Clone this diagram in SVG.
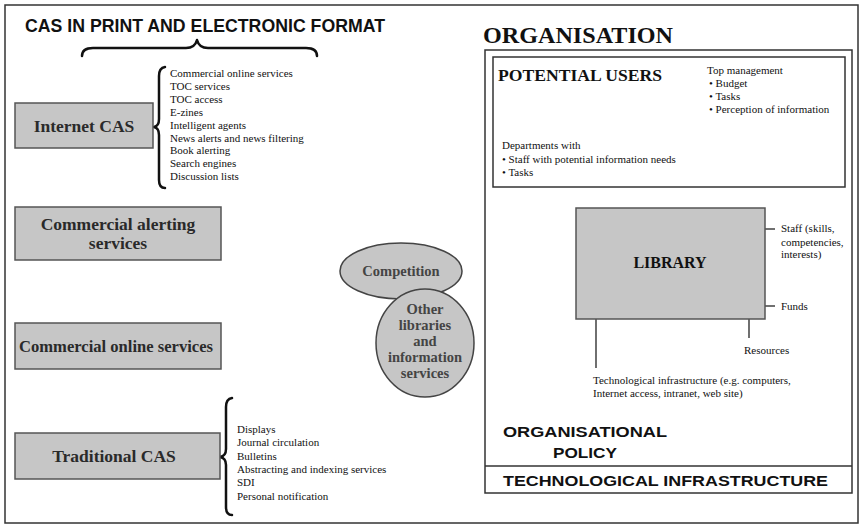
<svg xmlns="http://www.w3.org/2000/svg" width="861" height="526" viewBox="0 0 861 526">
<style>
.frame{fill:none;stroke:#333;stroke-width:1.5}
.box{fill:#c6c6c6;stroke:#555;stroke-width:1.5}
.ell{fill:#c6c6c6;stroke:#444;stroke-width:1.5}
.lbl{font-family:"Liberation Serif",serif;font-weight:bold;font-size:17.5px;fill:#2a2a2a;text-anchor:middle}
.hd{font-family:"Liberation Sans",sans-serif;font-weight:bold;fill:#111}
.hds{font-family:"Liberation Serif",serif;font-weight:bold;fill:#111}
.body{font-family:"Liberation Serif",serif;font-size:11px;fill:#111}
.el{font-family:"Liberation Serif",serif;font-weight:bold;font-size:14.5px;fill:#444;text-anchor:middle}
.brace{fill:none;stroke:#111;stroke-width:2.5;stroke-linecap:round;stroke-linejoin:round}
.tick{fill:none;stroke:#222;stroke-width:1.3}
</style>
<rect x="0" y="0" width="861" height="526" fill="#fff"/>
<rect class="frame" x="5" y="5" width="853" height="518"/>

<g id="title">
<text class="hd" x="25" y="32" font-size="17.5" textLength="360" lengthAdjust="spacingAndGlyphs">CAS IN PRINT AND ELECTRONIC FORMAT</text>
</g>

<g id="connectors">
<path class="brace" stroke-width="4.5" d="M 82 56 Q 82 48 93 48 L 186 48 Q 195 48 197 40 Q 199 48 208 48 L 306 48 Q 317 48 317 56"/>
<path class="brace" d="M 165 67 Q 159 68 159 76 L 159 119 Q 159 126 154 127 Q 159 128 159 135 L 159 180 Q 159 188 165 188"/>
<path class="brace" d="M 232 398 Q 226 399 226 407 L 226 449 Q 226 456 220 457 Q 226 458 226 465 L 226 507 Q 226 515 232 515"/>
<line class="tick" x1="765" y1="229" x2="775" y2="229"/>
<line class="tick" x1="765" y1="306" x2="775" y2="306"/>
<line class="tick" x1="749" y1="319" x2="749" y2="338"/>
<line class="tick" x1="596" y1="319" x2="596" y2="368"/>
</g>

<g id="internet-cas">
<rect class="box" x="15" y="103" width="138" height="45"/>
<text class="lbl" x="84" y="132">Internet CAS</text>
</g>
<g id="internet-cas-list">
<text class="body" x="170" y="77">Commercial online services</text>
<text class="body" x="170" y="90">TOC services</text>
<text class="body" x="170" y="103">TOC access</text>
<text class="body" x="170" y="116">E-zines</text>
<text class="body" x="170" y="128.5">Intelligent agents</text>
<text class="body" x="170" y="141.5">News alerts and news filtering</text>
<text class="body" x="170" y="154">Book alerting</text>
<text class="body" x="170" y="167">Search engines</text>
<text class="body" x="170" y="180">Discussion lists</text>
</g>

<g id="commercial-alerting">
<rect class="box" x="15" y="207" width="206" height="53"/>
<text class="lbl" x="118" y="230">Commercial alerting</text>
<text class="lbl" x="118" y="249">services</text>
</g>

<g id="commercial-online">
<rect class="box" x="15" y="323" width="206" height="46"/>
<text class="lbl" x="116" y="352" textLength="194" lengthAdjust="spacingAndGlyphs">Commercial online services</text>
</g>

<g id="traditional-cas">
<rect class="box" x="15" y="433" width="205" height="46"/>
<text class="lbl" x="114" y="462">Traditional CAS</text>
</g>
<g id="traditional-cas-list">
<text class="body" x="237" y="432.5">Displays</text>
<text class="body" x="237" y="446">Journal circulation</text>
<text class="body" x="237" y="459.5">Bulletins</text>
<text class="body" x="237" y="473">Abstracting and indexing services</text>
<text class="body" x="237" y="486">SDI</text>
<text class="body" x="237" y="499.5">Personal notification</text>
</g>

<g id="competition">
<ellipse class="ell" cx="401" cy="271" rx="61" ry="28"/>
<text class="el" x="401" y="276">Competition</text>
</g>
<g id="other-libraries">
<ellipse class="ell" cx="425" cy="343" rx="49" ry="54"/>
<text class="el" x="425" y="314">Other</text>
<text class="el" x="425" y="330">libraries</text>
<text class="el" x="425" y="346">and</text>
<text class="el" x="425" y="362">information</text>
<text class="el" x="425" y="378">services</text>
</g>

<g id="organisation">
<text class="hds" x="483" y="43" font-size="23" textLength="190" lengthAdjust="spacingAndGlyphs">ORGANISATION</text>
<rect class="frame" x="485" y="50" width="367" height="443"/>
<line class="frame" x1="485" y1="466" x2="852" y2="466"/>
<text class="hd" x="503" y="437" font-size="14.5" textLength="164" lengthAdjust="spacingAndGlyphs">ORGANISATIONAL</text>
<text class="hd" x="553" y="458" font-size="14.5" textLength="64" lengthAdjust="spacingAndGlyphs">POLICY</text>
</g>

<g id="technological-infrastructure">
<text class="hd" x="503" y="486" font-size="15" textLength="325" lengthAdjust="spacingAndGlyphs">TECHNOLOGICAL INFRASTRUCTURE</text>
</g>

<g id="potential-users">
<rect class="frame" x="493" y="57" width="352" height="130"/>
<text class="hds" x="498" y="81" font-size="16.5" textLength="164" lengthAdjust="spacingAndGlyphs">POTENTIAL USERS</text>
<text class="body" x="707" y="74">Top management</text>
<text class="body" x="709" y="87">• Budget</text>
<text class="body" x="709" y="100">• Tasks</text>
<text class="body" x="709" y="113">• Perception of information</text>
<text class="body" x="502" y="149">Departments with</text>
<text class="body" x="502" y="163">• Staff with potential information needs</text>
<text class="body" x="502" y="176">• Tasks</text>
</g>

<g id="library">
<rect class="box" x="576" y="208" width="189" height="111"/>
<text class="hds" x="670" y="268" font-size="16" fill="#2a2a2a" text-anchor="middle">LIBRARY</text>
<text class="body" x="781" y="232">Staff (skills,</text>
<text class="body" x="781" y="246">competencies,</text>
<text class="body" x="781" y="258">interests)</text>
<text class="body" x="781" y="310">Funds</text>
<text class="body" x="744" y="354">Resources</text>
<text class="body" x="593" y="384">Technological infrastructure (e.g. computers,</text>
<text class="body" x="593" y="397">Internet access, intranet, web site)</text>
</g>
</svg>
